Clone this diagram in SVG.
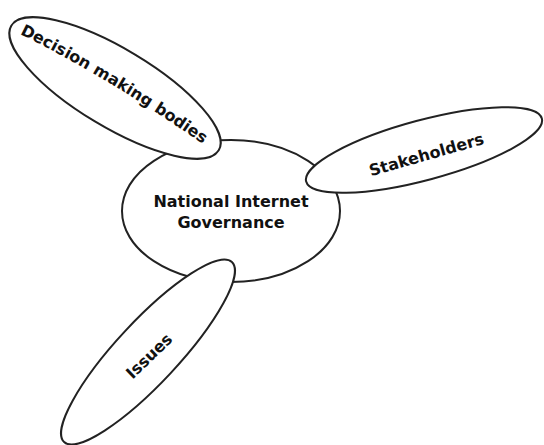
<svg xmlns="http://www.w3.org/2000/svg" width="544" height="445" viewBox="0 0 544 445">
<style>
.sh{fill:#fff;stroke:#222;stroke-width:2}
.t{font-family:"DejaVu Sans",Verdana,sans-serif;font-weight:bold;font-size:16px;fill:#111}
</style>
<rect width="544" height="445" fill="#fff"/>
<defs>
<path id="p1" d="M20,34 Q110,78 214,152"/>
</defs>
<g id="connectors"/>
<g id="center">
<ellipse class="sh" cx="231" cy="211" rx="109" ry="71"/>
<text class="t" x="231" y="207" text-anchor="middle">National Internet</text>
<text class="t" x="231" y="228" text-anchor="middle">Governance</text>
</g>
<g id="decision">
<ellipse class="sh" cx="115" cy="88" rx="121" ry="39" transform="rotate(31 115 88)"/>
<text class="t"><textPath href="#p1">Decision making bodies</textPath></text>
</g>
<g id="stakeholders">
<ellipse class="sh" cx="424" cy="150" rx="122" ry="30" transform="rotate(-15 424 150)"/>
<text class="t" x="428" y="160" text-anchor="middle" transform="rotate(-16 428 160)">Stakeholders</text>
</g>
<g id="issues">
<ellipse class="sh" cx="148" cy="352" rx="123" ry="31" transform="rotate(-47 148 352)"/>
<text class="t" x="153" y="360" text-anchor="middle" transform="rotate(-44 153 360)">Issues</text>
</g>
</svg>
